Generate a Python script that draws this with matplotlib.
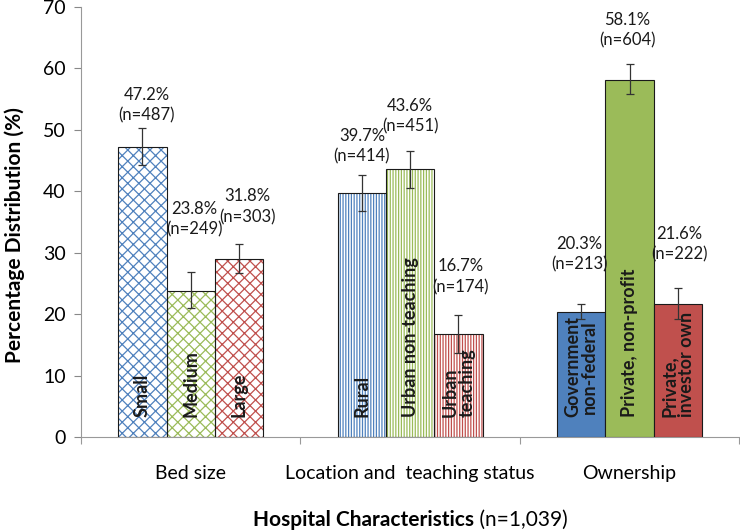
import matplotlib
matplotlib.use("Agg")
import matplotlib.pyplot as plt
import numpy as np

# ---------------- data ----------------
groups = ["Bed size", "Location and  teaching status", "Ownership"]
bar_names = ["Small", "Medium", "Large",
             "Rural", "Urban non-teaching", "Urban\nteaching",
             "Government\nnon-federal", "Private, non-profit", "Private,\ninvestor own"]
values = [47.2, 23.8, 28.9, 39.7, 43.6, 16.7, 20.3, 58.1, 21.7]
err_low = [44.2, 21.0, 26.7, 36.8, 40.6, 13.7, 19.2, 55.8, 19.2]
err_high = [50.3, 26.9, 31.5, 42.7, 46.6, 19.8, 21.6, 60.7, 24.3]
label_pct = ["47.2%", "23.8%", "31.8%", "39.7%", "43.6%", "16.7%", "20.3%", "58.1%", "21.6%"]
label_n = ["(n=487)", "(n=249)", "(n=303)", "(n=414)", "(n=451)", "(n=174)",
           "(n=213)", "(n=604)", "(n=222)"]
yticks = [0, 10, 20, 30, 40, 50, 60, 70]

# ---------------- style ----------------
blue, green, red = "#4F81BD", "#9BBB59", "#C0504D"
colors = [blue, green, red] * 3
hatches = ["xxx"] * 3 + ["||||||"] * 3 + [None] * 3
label_gap = [3.7, 8.5, 6.0, 4.6, 5.6, 6.3, 8.2, 5.5, 7.1]
label_dx = [0.02, 0.015, 0.04, 0.0, 0.0, 0.01, -0.007, -0.01, 0.007]
multialign = ["left"] * 6 + ["center", "left", "left"]
FONT = "Lato"

plt.rcParams["font.family"] = [FONT, "DejaVu Sans"]
plt.rcParams["hatch.linewidth"] = 0.9

fig = plt.figure(figsize=(7.4, 5.31), dpi=100)
ax = fig.add_axes([81 / 740, 94 / 531, 1 - 81 / 740 - 0.001, 430 / 531])

width = 0.22
offsets = [-width, 0.0, width]
xs = np.array([g + o for g in range(len(groups)) for o in offsets])
vals = np.array(values)

for i in range(len(xs)):
    if hatches[i]:
        ax.bar(xs[i], vals[i], width, color="white", edgecolor=colors[i],
               hatch=hatches[i], linewidth=0, zorder=2)
        ax.bar(xs[i], vals[i], width, fill=False, edgecolor="#1a1a1a",
               linewidth=0.8, zorder=3)
    else:
        ax.bar(xs[i], vals[i], width, color=colors[i], edgecolor="#1a1a1a",
               linewidth=0.8, zorder=3)

yerr = np.vstack([vals - np.array(err_low), np.array(err_high) - vals])
ax.errorbar(xs, vals, yerr=yerr, fmt="none", ecolor="#333333", elinewidth=0.9,
            capsize=3, capthick=0.9, zorder=4)

for i in range(len(xs)):
    ax.text(xs[i] + label_dx[i], err_high[i] + label_gap[i],
            label_pct[i] + "\n" + label_n[i],
            ha="center", va="center", fontsize=12, linespacing=1.35,
            color="#1a1a1a", zorder=5)
    ax.text(xs[i], 3.2, bar_names[i], rotation=90, ha="center", va="bottom",
            fontsize=13, fontweight="bold", color="#1a1a1a",
            multialignment=multialign[i], linespacing=1.0, zorder=5)

ax.set_xlim(-0.5, len(groups) - 0.5)
ax.set_ylim(0, 70)
ax.set_yticks(yticks)
ax.tick_params(axis="y", labelsize=14, colors="#888888", labelcolor="black",
               length=5, width=0.8, direction="out", pad=6)
ax.set_xticks(range(len(groups)))
ax.set_xticklabels(groups, fontsize=14)
ax.tick_params(axis="x", which="major", length=0, pad=20)
ax.set_xticks(np.arange(-0.5, len(groups) + 0.5, 1.0), minor=True)
ax.tick_params(axis="x", which="minor", length=5, width=0.8, colors="#999999",
               direction="out")
for s in ["top", "right"]:
    ax.spines[s].set_visible(False)
for s in ["left", "bottom"]:
    ax.spines[s].set_color("#999999")
    ax.spines[s].set_linewidth(0.8)

ax.set_ylabel("Percentage Distribution (%)", fontsize=15, fontweight="bold")
ax.yaxis.set_label_coords((25 - 81) / 659, 0.47)

# x-axis title: bold part + regular part on a shared baseline
renderer = fig.canvas.get_renderer()
t1 = fig.text(0, 0, "Hospital Characteristics", fontsize=15, fontweight="bold",
              ha="left", va="baseline")
t2 = fig.text(0, 0, " (n=1,039)", fontsize=15, ha="left", va="baseline")
w1 = t1.get_window_extent(renderer).width
w2 = t2.get_window_extent(renderer).width
W = fig.get_figwidth() * fig.dpi
x0 = (410 - (w1 + w2) / 2) / W
yb = 1 - 526 / 531
t1.set_position((x0, yb))
t2.set_position((x0 + w1 / W, yb))

fig.savefig("out.png", dpi=100)
